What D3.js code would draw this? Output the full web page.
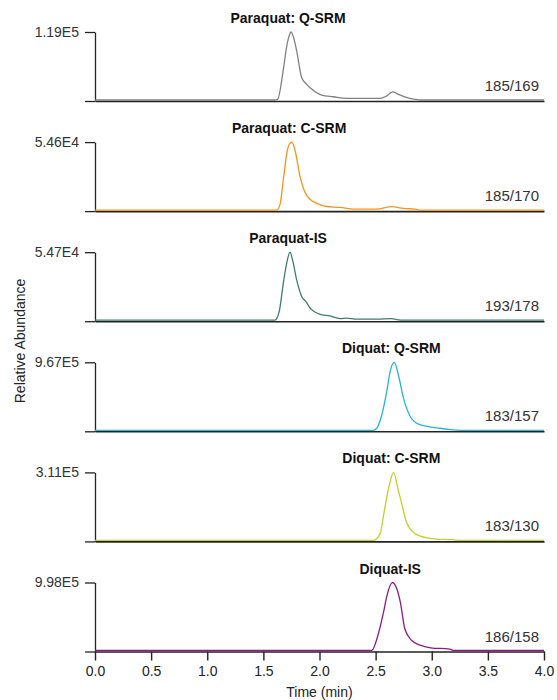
<!DOCTYPE html>
<html lang="en">
<head>
  <meta charset="UTF-8">
  <title>Paraquat / Diquat SRM chromatograms</title>
  <style>
    body { margin: 0; background: #fff; }
    text { font-family: "Liberation Sans", Arial, sans-serif; }
  </style>
</head>
<body>
  <script src="https://d3js.org/d3.v7.min.js"></script>
  <script>
    // panel titles, max-intensity labels, transitions
    const titles = ['Paraquat: Q-SRM', 'Paraquat: C-SRM', 'Paraquat-IS', 'Diquat: Q-SRM', 'Diquat: C-SRM', 'Diquat-IS'];
    const maxLabels = ['1.19E5', '5.46E4', '5.47E4', '9.67E5', '3.11E5', '9.98E5'];
    const transitions = ['185/169', '185/170', '193/178', '183/157', '183/130', '186/158'];
    const titlePos = [1.72, 1.73, 1.72, 2.64, 2.64, 2.63]; // time (min) under each title
    const colors = ['#808080', '#f7941d', '#3f7c71', '#25b5d5', '#c4cf2b', '#8b1c7d'];
    const xTicks = [0, 0.5, 1, 1.5, 2, 2.5, 3, 3.5, 4];

    // traces: retention time (min) and relative abundance (0-1)
    const pqQ_t = [0, 1.60, 1.627, 1.678, 1.708, 1.731, 1.746, 1.767, 1.797, 1.841, 1.886, 1.93, 2.019, 2.123, 2.242, 2.539, 2.598, 2.652, 2.70, 2.747, 2.851, 2.90, 4];
    const pqQ_v = [0, 0, 0.01, 0.45, 0.79, 0.95, 1.0, 0.93, 0.72, 0.33, 0.23, 0.16, 0.072, 0.048, 0.024, 0.024, 0.06, 0.12, 0.085, 0.053, 0.01, 0, 0];
    const pqC_t = [0, 1.618, 1.648, 1.678, 1.714, 1.731, 1.755, 1.782, 1.826, 1.871, 1.915, 1.975, 2.064, 2.183, 2.301, 2.509, 2.643, 2.747, 2.851, 2.90, 4];
    const pqC_v = [0, 0, 0.08, 0.45, 0.88, 0.97, 1.0, 0.88, 0.50, 0.26, 0.16, 0.10, 0.053, 0.04, 0.015, 0.015, 0.05, 0.024, 0.015, 0, 0];
    const pqIS_t = [0, 1.603, 1.642, 1.678, 1.708, 1.737, 1.761, 1.797, 1.841, 1.886, 1.915, 2.004, 2.093, 2.183, 2.242, 2.331, 2.509, 2.643, 2.688, 2.75, 4];
    const pqIS_v = [0, 0, 0.135, 0.55, 0.84, 1.0, 0.88, 0.59, 0.35, 0.26, 0.18, 0.087, 0.063, 0.024, 0.03, 0.015, 0.015, 0.024, 0.01, 0, 0];
    const dqQ_t = [0, 2.48, 2.51, 2.54, 2.57, 2.60, 2.63, 2.667, 2.702, 2.747, 2.806, 2.881, 2.985, 3.074, 3.163, 3.25, 4];
    const dqQ_v = [0, 0, 0.03, 0.14, 0.33, 0.58, 0.87, 1.0, 0.82, 0.48, 0.21, 0.09, 0.05, 0.03, 0.01, 0, 0];
    const dqC_t = [0, 2.48, 2.54, 2.58, 2.62, 2.66, 2.70, 2.73, 2.77, 2.85, 2.95, 3.04, 3.19, 3.25, 4];
    const dqC_v = [0, 0, 0.10, 0.46, 0.80, 1.0, 0.75, 0.56, 0.29, 0.10, 0.04, 0.02, 0.01, 0, 0];
    const dqIS_t = [0, 2.465, 2.52, 2.57, 2.60, 2.65, 2.69, 2.72, 2.76, 2.82, 2.895, 2.99, 3.16, 3.20, 4];
    const dqIS_v = [0, 0, 0.22, 0.56, 0.80, 1.0, 0.90, 0.71, 0.32, 0.15, 0.08, 0.04, 0.02, 0, 0];

    const traceT = [pqQ_t, pqC_t, pqIS_t, dqQ_t, dqC_t, dqIS_t];
    const traceV = [pqQ_v, pqC_v, pqIS_v, dqQ_v, dqC_v, dqIS_v];

    const width = 557, height = 700;
    const margin = { left: 95, right: 13 };
    const firstTop = 32, panelH = 69, panelStep = 110.1;

    const svg = d3.select('body').append('svg')
      .attr('width', width)
      .attr('height', height);

    const xScale = d3.scaleLinear().domain([0, 4]).range([margin.left, width - margin.right]);

    titles.forEach((title, i) => {
      const top = firstTop + i * panelStep;
      const base = top + panelH;
      const yScale = d3.scaleLinear().domain([0, 1]).range([base, top]);
      const g = svg.append('g').classed('panel', true);

      // baseline (x axis)
      const isLast = i === titles.length - 1;
      const xAxis = d3.axisBottom(xScale)
        .tickValues(isLast ? xTicks : [])
        .tickFormat(d3.format('.1f'))
        .tickSize(isLast ? 9 : 0)
        .tickSizeOuter(0);
      g.append('g')
        .attr('transform', `translate(0,${base})`)
        .call(xAxis)
        .call(a => a.select('.domain').attr('stroke', '#222').attr('stroke-width', 1.6))
        .call(a => a.selectAll('.tick line').attr('stroke', '#222').attr('stroke-width', 1.4))
        .call(a => a.selectAll('.tick text')
          .attr('font-size', 14)
          .attr('fill', '#222')
          .attr('dy', '0.9em')
          .attr('font-family', '"Liberation Sans", Arial, sans-serif'));

      // y axis with top tick label
      const yAxis = d3.axisLeft(yScale)
        .tickValues([0, 1])
        .tickFormat(d => d === 1 ? maxLabels[i] : '')
        .tickSize(10)
        .tickSizeOuter(0);
      g.append('g')
        .attr('transform', `translate(${margin.left},0)`)
        .call(yAxis)
        .call(a => a.select('.domain').attr('stroke', '#222').attr('stroke-width', 1.3))
        .call(a => a.selectAll('.tick line').attr('stroke', '#222').attr('stroke-width', 1.3))
        .call(a => a.selectAll('.tick text')
          .attr('font-size', 14)
          .attr('fill', '#333')
          .attr('x', -16)
          .attr('font-family', '"Liberation Sans", Arial, sans-serif'));

      // trace
      const pts = traceT[i].map((t, k) => [t, traceV[i][k]]);
      const yTrace = d3.scaleLinear().domain([0, 1]).range([base - 1, top]);
      g.append('path')
        .datum(pts)
        .attr('d', d3.line()
          .x(d => xScale(d[0]))
          .y(d => yTrace(d[1]))
          .curve(d3.curveMonotoneX))
        .attr('fill', 'none')
        .attr('stroke', colors[i])
        .attr('stroke-width', 1.3);

      // title
      g.append('text')
        .attr('x', xScale(titlePos[i]))
        .attr('y', top - 9)
        .attr('text-anchor', 'middle')
        .attr('font-size', 14)
        .attr('font-weight', 'bold')
        .attr('fill', '#111')
        .text(title);

      // transition label
      g.append('text')
        .attr('x', width - 18)
        .attr('y', base - 10)
        .attr('text-anchor', 'end')
        .attr('font-size', 15)
        .attr('fill', '#333')
        .text(transitions[i]);
    });

    // axis titles
    svg.append('text')
      .attr('x', (xScale(0) + xScale(4)) / 2)
      .attr('y', 697)
      .attr('text-anchor', 'middle')
      .attr('font-size', 14)
      .attr('fill', '#222')
      .text('Time (min)');

    svg.append('text')
      .attr('transform', `translate(25,341) rotate(-90)`)
      .attr('text-anchor', 'middle')
      .attr('font-size', 14)
      .attr('fill', '#222')
      .text('Relative Abundance');
  </script>
</body>
</html>
